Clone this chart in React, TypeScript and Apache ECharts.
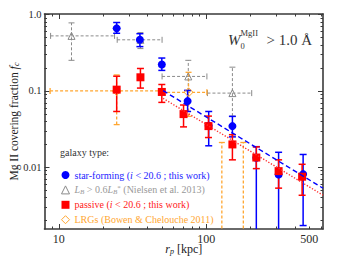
import React, { useEffect, useRef } from 'react';
import * as echarts from 'echarts';

// ---- data ----
// star-forming (blue circles)
const sfR = [24.7, 35.5, 50.0, 74.8, 104, 150.6, 218.8, 309.9, 454.5];
const sfF = [0.661, 0.468, 0.222, 0.0736, 0.0349, 0.0346, 0.0133, 0.00804, 0.00813];
const sfLo = [0.57, 0.381, 0.186, 0.0538, 0.0191, 0.025, 0.0003, 0.0003, 0.00172];
const sfHi = [0.789, 0.563, 0.27, 0.1018, 0.0538, 0.0464, 0.0186, 0.0157, 0.0147];
// passive (red squares)
const pasR = [24.7, 35.8, 50.0, 70.2, 103.6, 150.6, 218.8, 309.9, 447.4];
const pasF = [0.104, 0.151, 0.097, 0.0497, 0.0346, 0.0199, 0.0134, 0.00889, 0.00751];
const pasLo = [0.0538, 0.109, 0.0708, 0.0338, 0.0245, 0.0125, 0.00959, 0.00532, 0.00429];
const pasHi = [0.156, 0.197, 0.1215, 0.0654, 0.0468, 0.0267, 0.0185, 0.0125, 0.01093];
// Nielsen et al. 2013 (grey open triangles)
const nR = [12.2, 35.8, 75.6, 150.6];
const nF = [0.527, 0.468, 0.155, 0.0937];
const nLo = [0.252, 0.359, 0.1, 0.0468];
const nHi = [0.78, 0.581, 0.252, 0.205];
const nRlo = [8.8, 24.9, 50.2, 102];
const nRhi = [23.9, 50.2, 101.1, 203.6];
// LRGs, Bowen & Chelouche 2011 (orange open diamonds)
const lR = [24.7, 75.9, 127.7, 178.6];
const lF = [0.1, 0.096, 0.0008, 0.0008];
const lLo = [0.0362, 0.0464, 0.0003, 0.0003];
const lHi = [0.162, 0.1755, 0.0211, 0.0211];
const lRlo = [8.73, 50.2, 127.7, 178.6];
const lRhi = [50.2, 101.1, 127.7, 178.6];
// power-law fits
const sfFitR = [51, 620];
const sfFitF = [0.101, 0.0053];
const pasFitR = [51, 620];
const pasFitF = [0.08, 0.0043];

// axes
const xRange = [8, 620];
const yRange = [0.00155, 1.02];
const xMajorTicks = [10, 100];
const xMinorTicks = [9, 20, 30, 40, 50, 60, 70, 80, 90, 200, 300, 400, 500, 600];
const xTickLabels = [10, 100, 500];
const xTickText = ['10', '100', '500'];
const yMajorTicks = [0.01, 0.1, 1];
const yMinorTicks = [
  0.002, 0.003, 0.004, 0.005, 0.006, 0.007, 0.008, 0.009,
  0.02, 0.03, 0.04, 0.05, 0.06, 0.07, 0.08, 0.09,
  0.2, 0.3, 0.4, 0.5, 0.6, 0.7, 0.8, 0.9,
];
const yTickLabels = [0.01, 0.1, 1];
const yTickText = ['0.01', '0.1', '1.0'];

const legendNames = ['star-forming', 'Nielsen', 'passive', 'LRGs'];
const legendTexts = [
  'star-forming ({it|i} < 20.6 ; this work)',
  '{it|L}{sub|B} > 0.6{it|L}{sub|B}{sup|*} (Nielsen et al. 2013)',
  'passive ({it|i} < 20.6 ; this work)',
  'LRGs (Bowen & Chelouche 2011)',
];

// ---- styles ----
const FONT = '"Liberation Serif", "Times New Roman", serif';
const AX = '#3a3a3a';
const BLUE = '#0000ff';
const RED = '#ff0000';
const GRAY = '#8a8a8a';
const ORANGE = '#ffa630';
const LFS = 10;

const lg = (a: number[]) => a.map((v) => Math.log10(v));
const nearestText = (vals: number[], texts: string[]) => (v: number) => {
  let best = 0;
  for (let i = 1; i < vals.length; i++) {
    if (Math.abs(Math.log10(vals[i]) - v) < Math.abs(Math.log10(vals[best]) - v)) best = i;
  }
  return texts[best];
};

function errRender(color: string, width: number, dash: number[] | null, cap: number) {
  return (_params: any, api: any) => {
    const x = api.value(0);
    const y = api.value(1);
    const ylo = api.value(2);
    const yhi = api.value(3);
    const xlo = api.value(4);
    const xhi = api.value(5);
    const c = api.coord([x, y]);
    const lo = api.coord([x, ylo]);
    const hi = api.coord([x, yhi]);
    const l = api.coord([xlo, y]);
    const r = api.coord([xhi, y]);
    const style: any = { stroke: color, lineWidth: width, fill: null };
    if (dash) style.lineDash = dash;
    const capStyle: any = { stroke: color, lineWidth: width, fill: null };
    const ch: any[] = [];
    const seg = (x1: number, y1: number, x2: number, y2: number, s: any) =>
      ch.push({ type: 'line', shape: { x1, y1, x2, y2 }, style: s });
    seg(c[0], lo[1], c[0], hi[1], style);
    seg(c[0] - cap, lo[1], c[0] + cap, lo[1], capStyle);
    seg(c[0] - cap, hi[1], c[0] + cap, hi[1], capStyle);
    if (xhi > xlo) {
      seg(l[0], c[1], r[0], c[1], style);
      seg(l[0], c[1] - cap, l[0], c[1] + cap, capStyle);
      seg(r[0], c[1] - cap, r[0], c[1] + cap, capStyle);
    }
    return { type: 'group', children: ch };
  };
}

function rows(r: number[], f: number[], lo: number[], hi: number[], rlo?: number[], rhi?: number[]) {
  return r.map((x, i) => [x, f[i], lo[i], hi[i], rlo ? rlo[i] : x, rhi ? rhi[i] : x]);
}

function tickAxis(dim: 'x' | 'y', position: string, ticks: number[], len: number, showLine: boolean, labels?: number[], texts?: string[]) {
  const range = dim === 'x' ? xRange : yRange;
  return {
    type: 'value',
    position,
    min: Math.log10(range[0]),
    max: Math.log10(range[1]),
    axisLine: { show: showLine, onZero: false, lineStyle: { color: AX, width: 1.6 } },
    axisTick: { show: true, inside: true, length: len, customValues: lg(ticks), lineStyle: { color: AX, width: 1 } },
    axisLabel: labels
      ? {
          show: true,
          customValues: lg(labels),
          formatter: nearestText(labels, texts as string[]),
          margin: dim === 'x' ? 4 : 3,
          fontFamily: FONT,
          fontSize: dim === 'x' ? 12 : 10.5,
          color: '#2a2a2a',
        }
      : { show: false },
    splitLine: { show: false },
    minorTick: { show: false },
    silent: true,
  };
}

const nameRich = {
  it: { fontFamily: FONT, fontStyle: 'italic', fontSize: 12, color: '#222' },
  sub: { fontFamily: FONT, fontStyle: 'italic', fontSize: 8, color: '#222', padding: [5, 0, 0, 0] },
};

const option: any = {
  animation: false,
  backgroundColor: '#fff',
  grid: { left: 43, right: 37, top: 14, bottom: 27 },
  xAxis: [
    {
      type: 'log',
      logBase: 10,
      position: 'bottom',
      min: xRange[0],
      max: xRange[1],
      axisLine: { show: true, onZero: false, lineStyle: { color: AX, width: 1.6 } },
      axisTick: { show: false },
      axisLabel: { show: false },
      splitLine: { show: false },
      name: '{it|r}{sub|p} [kpc]',
      nameLocation: 'middle',
      nameGap: 13,
      nameTextStyle: { fontFamily: FONT, fontSize: 12, color: '#222', rich: nameRich },
    },
    tickAxis('x', 'bottom', xMajorTicks, 5, false, xTickLabels, xTickText),
    tickAxis('x', 'bottom', xMinorTicks, 2.5, false),
    tickAxis('x', 'top', xMajorTicks, 5, true),
    tickAxis('x', 'top', xMinorTicks, 2.5, false),
  ],
  yAxis: [
    {
      type: 'log',
      logBase: 10,
      position: 'left',
      min: yRange[0],
      max: yRange[1],
      axisLine: { show: true, onZero: false, lineStyle: { color: AX, width: 1.6 } },
      axisTick: { show: false },
      axisLabel: { show: false },
      splitLine: { show: false },
      name: 'Mg II covering fraction {it|f}{sub|c}',
      nameLocation: 'middle',
      nameGap: 24,
      nameTextStyle: { fontFamily: FONT, fontSize: 11.5, color: '#222', rich: nameRich },
    },
    tickAxis('y', 'left', yMajorTicks, 5, false, yTickLabels, yTickText),
    tickAxis('y', 'left', yMinorTicks, 2.5, false),
    tickAxis('y', 'right', yMajorTicks, 5, true),
    tickAxis('y', 'right', yMinorTicks, 2.5, false),
  ],
  legend: {
    orient: 'vertical',
    left: 56,
    top: 164,
    itemWidth: 8,
    itemHeight: 8,
    itemGap: 2.9,
    selectedMode: false,
    formatter: (name: string) => legendTexts[legendNames.indexOf(name)],
    textStyle: {
      fontFamily: FONT,
      fontSize: LFS,
      lineHeight: 12,
      rich: {
        it: { fontFamily: FONT, fontStyle: 'italic', fontSize: LFS, lineHeight: 12 },
        sub: { fontFamily: FONT, fontStyle: 'italic', fontSize: 7, padding: [4, 0, 0, 0] },
        sup: { fontFamily: FONT, fontSize: 7, padding: [0, 0, 4, 0] },
      },
    },
    data: [
      { name: 'star-forming', icon: 'circle', itemStyle: { color: BLUE, borderWidth: 0 }, textStyle: { color: '#2424ff' } },
      { name: 'Nielsen', icon: 'triangle', itemStyle: { color: 'rgba(0,0,0,0)', borderColor: GRAY, borderWidth: 1 }, textStyle: { color: '#999' } },
      { name: 'passive', icon: 'rect', itemStyle: { color: RED, borderWidth: 0 }, textStyle: { color: '#ff1a1a' } },
      { name: 'LRGs', icon: 'diamond', itemStyle: { color: 'rgba(0,0,0,0)', borderColor: ORANGE, borderWidth: 1 }, textStyle: { color: ORANGE } },
    ],
  },
  graphic: [
    { type: 'text', left: 60, top: 147.5, style: { text: 'galaxy type:', font: `${LFS}px ${FONT}`, fill: '#333' } },
    {
      type: 'group',
      children: [
        { type: 'text', x: 228, y: 40, style: { text: 'W', font: `italic 15px ${FONT}`, fill: '#333', textVerticalAlign: 'middle' } },
        { type: 'text', x: 240.5, y: 33, style: { text: 'MgII', font: `8.5px ${FONT}`, fill: '#333', textVerticalAlign: 'middle' } },
        { type: 'text', x: 240.5, y: 45.5, style: { text: '0', font: `8.5px ${FONT}`, fill: '#333', textVerticalAlign: 'middle' } },
        { type: 'text', x: 312, y: 40, style: { text: '> 1.0 Å', font: `15px ${FONT}`, fill: '#333', textAlign: 'right', textVerticalAlign: 'middle' } },
      ],
    },
  ],
  series: [
    {
      name: 'Nielsen-err',
      type: 'custom',
      clip: true,
      renderItem: errRender(GRAY, 1, [3, 2], 3),
      encode: { x: 0, y: 1 },
      data: rows(nR, nF, nLo, nHi, nRlo, nRhi),
      silent: true,
    },
    {
      name: 'Nielsen',
      type: 'scatter',
      symbol: 'triangle',
      symbolSize: 7,
      itemStyle: { color: 'rgba(0,0,0,0)', borderColor: GRAY, borderWidth: 1, opacity: 1 },
      data: nR.map((x, i) => [x, nF[i]]),
    },
    {
      name: 'LRGs-err',
      type: 'custom',
      clip: true,
      renderItem: errRender(ORANGE, 1.3, [3, 2], 3),
      encode: { x: 0, y: 1 },
      data: rows(lR, lF, lLo, lHi, lRlo, lRhi),
      silent: true,
    },
    {
      name: 'LRGs',
      type: 'scatter',
      symbol: 'diamond',
      symbolSize: 9,
      clip: true,
      itemStyle: { color: 'rgba(0,0,0,0)', borderColor: ORANGE, borderWidth: 1, opacity: 1 },
      data: lR.map((x, i) => [x, lF[i]]),
    },
    {
      name: 'sf-fit',
      type: 'line',
      symbol: 'none',
      lineStyle: { color: BLUE, width: 1.4, type: [5, 3] },
      data: sfFitR.map((x, i) => [x, sfFitF[i]]),
      silent: true,
    },
    {
      name: 'pas-fit',
      type: 'line',
      symbol: 'none',
      lineStyle: { color: '#ff3030', width: 1.4, type: [1.3, 1.7] },
      data: pasFitR.map((x, i) => [x, pasFitF[i]]),
      silent: true,
    },
    {
      name: 'sf-err',
      type: 'custom',
      clip: true,
      renderItem: errRender(BLUE, 1.5, null, 3.5),
      encode: { x: 0, y: 1 },
      data: rows(sfR, sfF, sfLo, sfHi),
      silent: true,
    },
    {
      name: 'star-forming',
      type: 'scatter',
      symbol: 'circle',
      symbolSize: 8,
      itemStyle: { color: BLUE, opacity: 1 },
      data: sfR.map((x, i) => [x, sfF[i]]),
    },
    {
      name: 'pas-err',
      type: 'custom',
      clip: true,
      renderItem: errRender(RED, 1.5, null, 3.5),
      encode: { x: 0, y: 1 },
      data: rows(pasR, pasF, pasLo, pasHi),
      silent: true,
    },
    {
      name: 'passive',
      type: 'scatter',
      symbol: 'rect',
      symbolSize: 8,
      itemStyle: { color: RED, opacity: 1 },
      data: pasR.map((x, i) => [x, pasF[i]]),
    },
  ],
};

export default function App() {
  const ref = useRef<HTMLDivElement>(null);
  useEffect(() => {
    if (!ref.current) return;
    const chart = echarts.init(ref.current, null, { renderer: 'svg' });
    chart.setOption(option);
    return () => chart.dispose();
  }, []);
  return (
    <div
      ref={ref}
      style={{ position: 'fixed', left: 0, top: 0, width: 360, height: 260, background: '#fff' }}
    />
  );
}
